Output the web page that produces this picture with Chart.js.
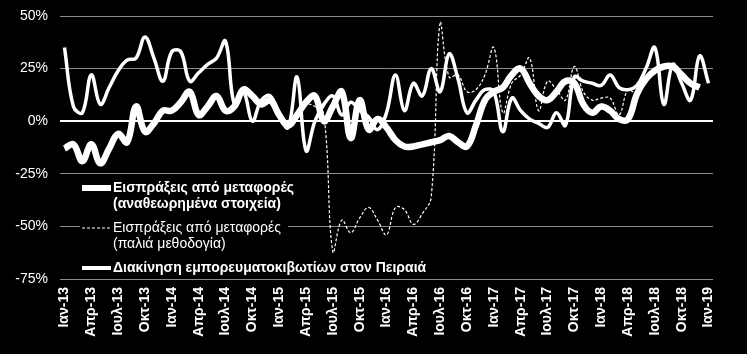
<!DOCTYPE html>
<html>
<head>
<meta charset="utf-8">
<script src="https://cdn.jsdelivr.net/npm/chart.js@4"></script>
<style>
  body { margin: 0; background: #000; }
</style>
</head>
<body>
<canvas id="chart" width="747" height="354"></canvas>
<script>
// month names and years for the category axis (Ιαν-13 ... Ιαν-19)
const monthNames = ["Ιαν", "Φεβ", "Μαρ", "Απρ", "Μαϊ", "Ιουν", "Ιουλ", "Αυγ", "Σεπ", "Οκτ", "Νοε", "Δεκ"];
const years = ["13", "14", "15", "16", "17", "18", "19"];

const labels = [];
years.forEach((y, yi) => {
  monthNames.forEach((m, mi) => {
    if (yi < years.length - 1 || mi === 0) labels.push(m + "-" + y);
  });
});

// y-o-y % change
const revisedReceipts = [
  -13, -11, -19, -11, -20, -13, -6, -10, 7, -5, -1, 5,
  5, 9, 14, 3, 7, 12, 5, 7, 15, 12, 8, 10,
  3, -2, 3, 9, 12, 0, 7, 14, -8, 10, -4, 1,
  -3, -9, -12, -12, -11, -10, -9, -7, -10, -12, -2, 10,
  14, 16, 22, 25, 18, 12, 10, 14, 19, 18, 8, 4,
  7, 5, 1, 1, 13, 20, 24, 26, 26, 22, 18, 16,
  null
];

const oldReceipts = [
  null, null, null, null, null, null, null, null, null, null, null, null,
  null, null, null, null, null, null, null, null, null, null, null, null,
  3, -2, 4, 8, 7, 3, -62, -47, -53, -46, -41, -47,
  -54, -41, -42, -49, -44, -36, 47, 21, 22, 14, 15, 22,
  35, 4, 18, 22, 30, 5, 19, 15, 10, 26, 14, 10,
  11, 11, 3, 15, 13, 20, 24, 26, 26, 22, 18, 16,
  null
];

const piraeusContainers = [
  35, 7, 4, 22, 8, 16, 24, 29, 30, 40, 30, 19,
  33, 33, 19, 23, 27, 30, 38, 8, 14, 0, 10, 12,
  3, -3, 21, -14, 0, 8, 12, 3, 9, 5, 2, -4,
  4, 22, 5, 18, 12, 25, 14, 32, 20, 4, 10, 15,
  14, -5, 11, 5, 1, -1, -3, 4, -2, 21, 19, 18,
  17, 22, 16, 15, 17, 25, 35, 8, 27, 18, 10, 31,
  18
];

const yTicks = [50, 25, 0, -25, -50, -75];

const legendEntries = [
  { text: ["Εισπράξεις από μεταφορές", "(αναθεωρημένα στοιχεία)"], bold: true, width: 6, dash: [] },
  { text: ["Εισπράξεις από μεταφορές", "(παλιά μεθοδογία)"], bold: false, width: 1.2, dash: [3, 2] },
  { text: ["Διακίνηση εμπορευματοκιβωτίων στον Πειραιά"], bold: true, width: 4, dash: [] }
];

const FONT = "'Liberation Sans', Arial, sans-serif";

// draws the legend box inside the plot, like the original
const legendPlugin = {
  id: "boxLegend",
  afterDraw(chart) {
    const ctx = chart.ctx;
    ctx.save();
    ctx.fillStyle = "#000";
    ctx.fillRect(80, 178, 208, 98);
    const rows = [188, 228, 268];
    legendEntries.forEach((item, i) => {
      const y = rows[i];
      ctx.strokeStyle = "#fff";
      ctx.lineWidth = item.width;
      ctx.setLineDash(item.dash);
      ctx.lineCap = "butt";
      ctx.beginPath();
      ctx.moveTo(82, y);
      ctx.lineTo(111, y);
      ctx.stroke();
      ctx.setLineDash([]);
      ctx.fillStyle = "#fff";
      ctx.font = (item.bold ? "bold " : "") + "14px " + FONT;
      ctx.textBaseline = "middle";
      ctx.textAlign = "left";
      item.text.forEach((line, li) => {
        ctx.fillText(line, 113, y + li * 16);
      });
    });
    ctx.restore();
  }
};

new Chart(document.getElementById("chart"), {
  type: "line",
  data: {
    labels: labels,
    datasets: [
      {
        label: "Εισπράξεις από μεταφορές (παλιά μεθοδογία)",
        data: oldReceipts,
        borderColor: "#fff",
        borderWidth: 1.2,
        borderDash: [3, 2],
        pointRadius: 0,
        tension: 0.4,
        spanGaps: false
      },
      {
        label: "Διακίνηση εμπορευματοκιβωτίων στον Πειραιά",
        data: piraeusContainers,
        borderColor: "#fff",
        borderWidth: 3.5,
        pointRadius: 0,
        tension: 0.4
      },
      {
        label: "Εισπράξεις από μεταφορές (αναθεωρημένα στοιχεία)",
        data: revisedReceipts,
        borderColor: "#fff",
        borderWidth: 6.5,
        pointRadius: 0,
        tension: 0.4
      }
    ]
  },
  options: {
    responsive: false,
    animation: false,
    layout: { padding: { top: 16, right: 34, left: 0, bottom: 0 } },
    plugins: {
      legend: { display: false },
      tooltip: { enabled: false }
    },
    scales: {
      x: {
        offset: true,
        grid: { display: false, drawTicks: false },
        border: { display: false },
        ticks: {
          color: "#fff",
          font: { family: FONT, size: 14, weight: "bold" },
          autoSkip: false,
          maxRotation: 90,
          minRotation: 90,
          padding: 8,
          callback: (val, idx) => (idx % 3 === 0 ? labels[idx] : "")
        },
        afterFit: (scale) => {
          scale.height = 75;
          scale.paddingLeft = 0;
          scale.paddingRight = 0;
        }
      },
      y: {
        min: -75,
        max: 50,
        afterBuildTicks: (scale) => { scale.ticks = yTicks.map((v) => ({ value: v })); },
        grid: {
          drawTicks: false,
          color: (c) => (c.tick && c.tick.value === 0 ? "#fff" : "#8c8c8c"),
          lineWidth: (c) => (c.tick && c.tick.value === 0 ? 2 : 1)
        },
        border: { display: false },
        ticks: {
          color: "#fff",
          font: { family: FONT, size: 14 },
          padding: 12,
          callback: (v) => v + "%"
        },
        afterFit: (scale) => {
          scale.width = 60;
          scale.paddingTop = 0;
          scale.paddingBottom = 0;
        }
      }
    }
  },
  plugins: [legendPlugin]
});
</script>
</body>
</html>
